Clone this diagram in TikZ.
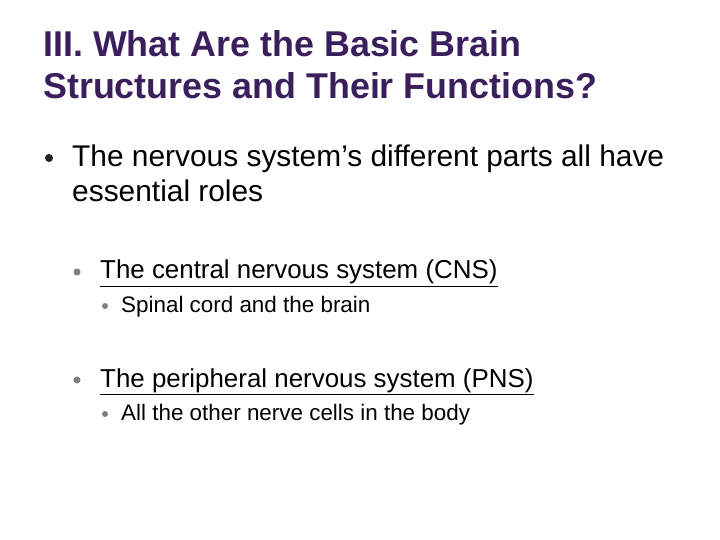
\documentclass[tikz,border=0pt]{standalone}
\usepackage{fontspec}
\setmainfont{Liberation Sans}
\definecolor{ttl}{HTML}{3B1F5C}
\definecolor{bl}{HTML}{222222}
\definecolor{gb}{HTML}{7F7F7F}
\begin{document}
\begin{tikzpicture}[x=1bp,y=-1bp,
  t/.style={anchor=base west,inner sep=0pt},
  dot/.style={circle,inner sep=0pt,minimum size=#1}]
\useasboundingbox (0,0) rectangle (720,540);
\node[t,text=ttl,font=\fontsize{36}{36}\selectfont\bfseries] (t1) at (43,57) {III. What Are the Basic Brain};
\node[t,text=ttl,font=\fontsize{36}{36}\selectfont\bfseries] (t2) at (43,99) {Structures and Their Functions?};
\node[dot=8bp,fill=bl] (b1) at (49,158) {};
\node[t,font=\fontsize{30}{30}\selectfont] (l1) at (72,167) {The nervous system’s different parts all have};
\node[t,font=\fontsize{30}{30}\selectfont] (l1b) at (72,202) {essential roles};
\node[dot=7bp,fill=gb] (b2) at (77,272) {};
\node[t,font=\fontsize{26}{26}\selectfont] (l2) at (100,279) {\underline{The central nervous system (CNS)}};
\node[dot=6bp,fill=gb] (b3) at (105,306) {};
\node[t,font=\fontsize{22.5}{22.5}\selectfont] (l3) at (121,312) {Spinal cord and the brain};
\node[dot=7bp,fill=gb] (b4) at (77,380) {};
\node[t,font=\fontsize{26}{26}\selectfont] (l4) at (100,387) {\underline{The peripheral nervous system (PNS)}};
\node[dot=6bp,fill=gb] (b5) at (105,414) {};
\node[t,font=\fontsize{22.5}{22.5}\selectfont] (l5) at (121,420) {All the other nerve cells in the body};
\end{tikzpicture}
\end{document}
